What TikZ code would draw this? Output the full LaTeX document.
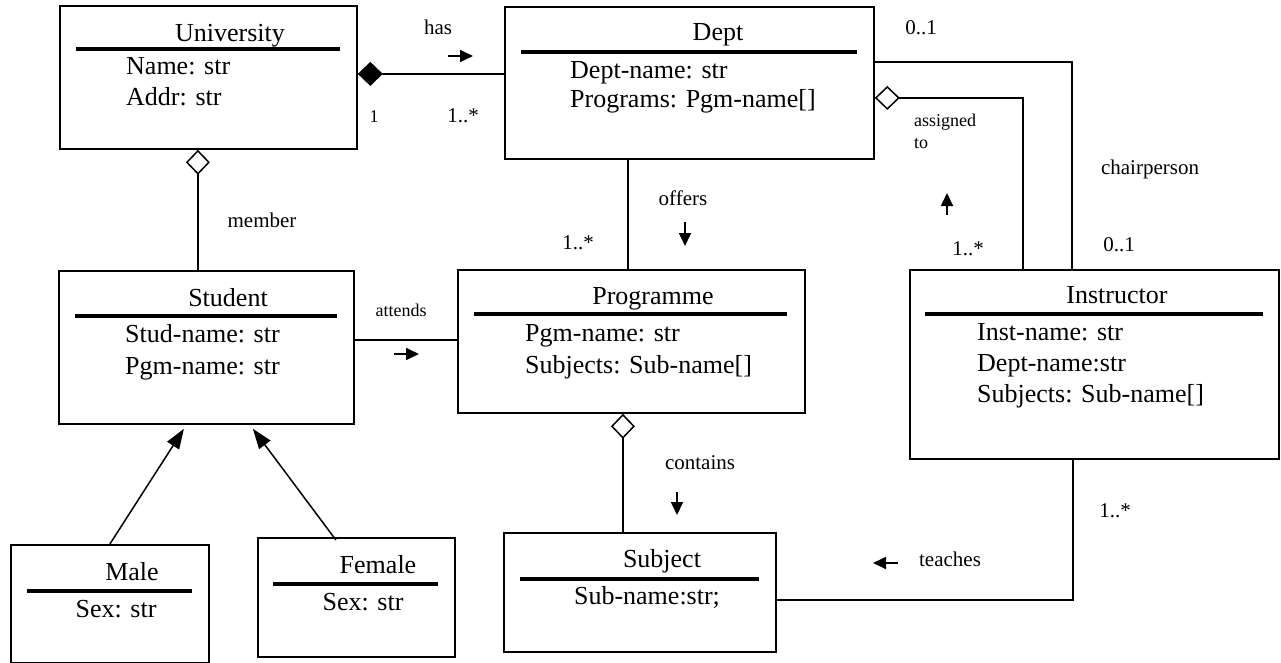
\documentclass[tikz,border=0pt]{standalone}
\usepackage{fontspec}
\setmainfont{Liberation Serif}
\usetikzlibrary{arrows.meta}
\begin{document}
\begin{tikzpicture}[x=1pt,y=-1pt,
  umlbox/.style={draw, line width=1.8pt, inner sep=0pt, anchor=north west},
  boxtitle/.style={anchor=base, inner sep=0pt, font=\fontsize{26}{30}\selectfont},
  attr/.style={anchor=base west, inner sep=0pt, font=\fontsize{26}{30}\selectfont},
  sepline/.style={line width=3.5pt},
  conn/.style={line width=1.5pt},
  lbl/.style={anchor=base, inner sep=0pt, font=\fontsize{21}{24}\selectfont},
  smalllbl/.style={anchor=base, inner sep=0pt, font=\fontsize{18}{22}\selectfont},
  dirarrow/.style={line width=1.7pt, -{Triangle[length=13pt,width=12pt]}},
  genarrow/.style={line width=1.5pt, -{Triangle[length=20pt,width=14pt]}},
  composition/.style={conn, {Diamond[length=25pt,width=24pt]}-},
  aggregation/.style={conn, {Diamond[open,length=25pt,width=24pt]}-},
]
\useasboundingbox (0,0) rectangle (1281,663);

% ---------- boxes ----------
\node[umlbox, minimum width=297pt, minimum height=143pt] (uni) at (59,5) {};
\node[boxtitle] (unit) at (230,42) {University};
\draw[sepline] (76,49) -- (340,49);
\node[attr] (uni1) at (126,75) {Name: str};
\node[attr] (uni2) at (126,106) {Addr: str};

\node[umlbox, minimum width=369pt, minimum height=152pt] (dept) at (504,6) {};
\node[boxtitle] (deptt) at (718,41) {Dept};
\draw[sepline] (521,52) -- (857,52);
\node[attr] (dept1) at (570,79) {Dept-name: str};
\node[attr] (dept2) at (570,108) {Programs: Pgm-name[]};

\node[umlbox, minimum width=295pt, minimum height=153pt] (stud) at (58,270) {};
\node[boxtitle] (studt) at (228,306) {Student};
\draw[sepline] (75,316) -- (337,316);
\node[attr] (stud1) at (125,342) {Stud-name: str};
\node[attr] (stud2) at (125,374) {Pgm-name: str};

\node[umlbox, minimum width=347pt, minimum height=143pt] (prog) at (457,269) {};
\node[boxtitle] (progt) at (653,304) {Programme};
\draw[sepline] (474,314) -- (787,314);
\node[attr] (prog1) at (525,341) {Pgm-name: str};
\node[attr] (prog2) at (525,373) {Subjects: Sub-name[]};

\node[umlbox, minimum width=369pt, minimum height=189pt] (instr) at (909,269) {};
\node[boxtitle] (instrt) at (1117,303) {Instructor};
\draw[sepline] (925,314) -- (1263,314);
\node[attr] (instr1) at (977,340) {Inst-name: str};
\node[attr] (instr2) at (977,371) {Dept-name:str};
\node[attr] (instr3) at (977,402) {Subjects: Sub-name[]};

\node[umlbox, minimum width=272pt, minimum height=119pt] (subj) at (503,532) {};
\node[boxtitle] (subjt) at (662,567) {Subject};
\draw[sepline] (520,579) -- (759,579);
\node[boxtitle] (subj1) at (647,604) {Sub-name:str;};

\node[umlbox, minimum width=198pt, minimum height=118pt] (male) at (10,544) {};
\node[boxtitle] (malet) at (132,580) {Male};
\draw[sepline] (27,591) -- (192,591);
\node[boxtitle] (male1) at (116,617) {Sex: str};

\node[umlbox, minimum width=197pt, minimum height=119pt] (fem) at (257,537) {};
\node[boxtitle] (femt) at (378,573) {Female};
\draw[sepline] (273,584) -- (438,584);
\node[boxtitle] (fem1) at (363,610) {Sex: str};

% ---------- connectors ----------
% has (composition)
\draw[composition] ([yshift=3.5pt]uni.east) -- ([yshift=3.5pt]uni.east -| dept.west);
% chairperson
\draw[conn] ([yshift=21pt]dept.east) -| ([xshift=-22.5pt]instr.north);
% assigned to (aggregation)
\draw[aggregation] ([yshift=-15pt]dept.east) -| ([xshift=-71.5pt]instr.north);
% member (aggregation)
\draw[aggregation] ([xshift=-10.5pt]uni.south) -- ([xshift=-10.5pt]uni.south |- stud.north);
% offers
\draw[conn] ([xshift=-61.5pt]dept.south) -- ([xshift=-61.5pt]dept.south |- prog.north);
% attends
\draw[conn] ([yshift=7.5pt]stud.east) -- ([yshift=7.5pt]stud.east -| prog.west);
% contains (aggregation)
\draw[aggregation] ([xshift=-8.5pt]prog.south) -- ([xshift=-8.5pt]prog.south |- subj.north);
% teaches
\draw[conn] ([yshift=-7.5pt]subj.east) -| ([xshift=-21.5pt]instr.south);
% generalisation
\draw[genarrow] (male.north) -- ([xshift=-22.5pt,yshift=-4pt]stud.south);
\draw[genarrow] ([xshift=-20.5pt,yshift=-3pt]fem.north) -- ([xshift=46.5pt,yshift=-4pt]stud.south);

% ---------- labels ----------
\node[lbl] (lhas) at (438,35) {has};
\coordinate (hasA) at (448,56); \coordinate (hasB) at (473,56);
\draw[dirarrow] (hasA) -- (hasB);
\node[smalllbl] (lone) at (374,123) {1};
\node[lbl] (lmany1) at (463,123) {1..*};

\node[lbl] (lzero1) at (921,35) {0..1};
\node[smalllbl, anchor=base west, align=left] (lassig) at (914,149) {assigned\\to};
\coordinate (asA) at (947,215); \coordinate (asB) at (947,193);
\draw[dirarrow] (asA) -- (asB);
\node[lbl] (lmany2) at (968,255) {1..*};
\node[lbl] (lchair) at (1150,175) {chairperson};
\node[lbl] (lzero2) at (1119,251) {0..1};

\node[lbl] (lmember) at (262,227) {member};

\node[lbl] (loffers) at (683,205) {offers};
\coordinate (ofA) at (685,222); \coordinate (ofB) at (685,246);
\draw[dirarrow] (ofA) -- (ofB);
\node[lbl] (lmany3) at (578,249) {1..*};

\node[smalllbl] (lattends) at (401,316) {attends};
\coordinate (atA) at (394,354); \coordinate (atB) at (419,354);
\draw[dirarrow] (atA) -- (atB);

\node[lbl] (lcontains) at (700,469) {contains};
\coordinate (coA) at (677,492); \coordinate (coB) at (677,515);
\draw[dirarrow] (coA) -- (coB);

\node[lbl] (lteaches) at (950,566) {teaches};
\coordinate (teA) at (898,563); \coordinate (teB) at (873,563);
\draw[dirarrow] (teA) -- (teB);
\node[lbl] (lmany4) at (1115,517) {1..*};
\end{tikzpicture}
\end{document}
